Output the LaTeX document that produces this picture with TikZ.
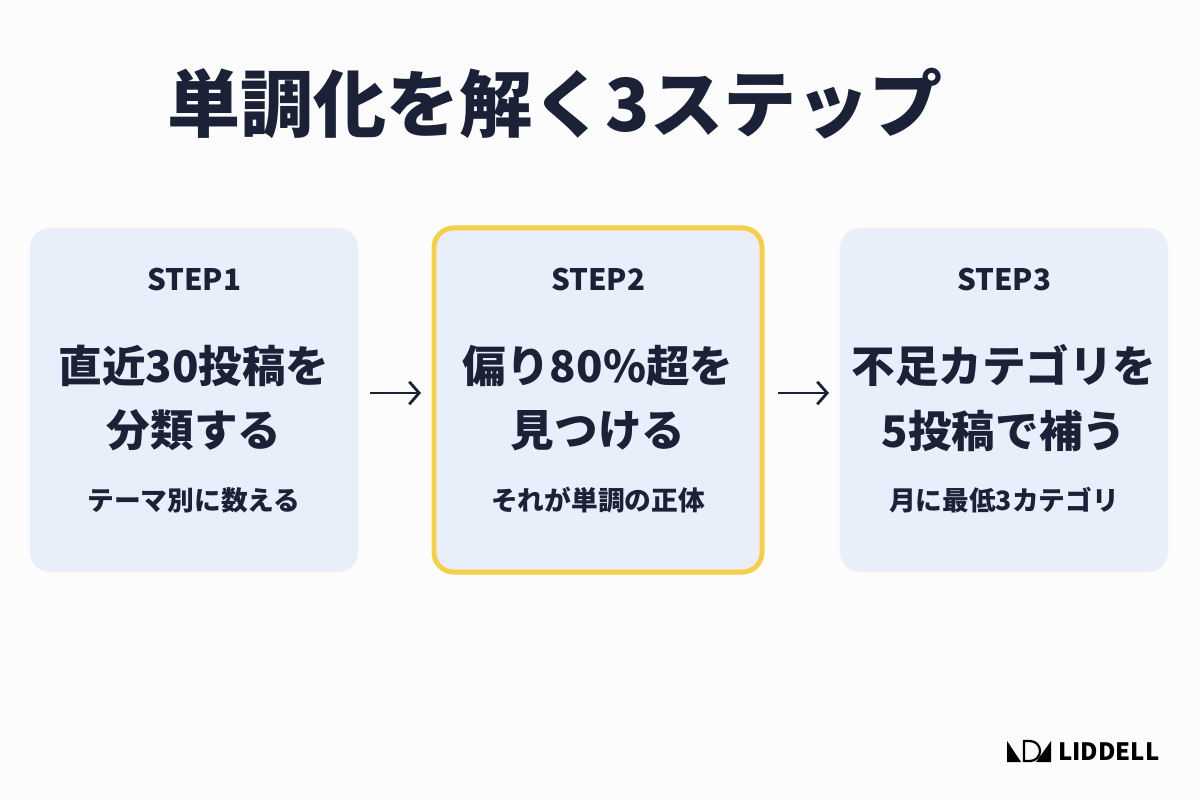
\documentclass[tikz,border=0pt]{standalone}
\usepackage{fontspec}
\setmainfont{Noto Sans CJK JP}
\usetikzlibrary{positioning,arrows.meta}
\definecolor{navy}{HTML}{1B2238}
\definecolor{boxfill}{HTML}{E9EFFA}
\definecolor{gold}{HTML}{F5CF45}
\tikzset{
  step box/.style={rounded corners=14pt, fill=boxfill, minimum width=8.2cm, minimum height=8.6cm, inner sep=0pt},
  step tag/.style={text=navy, font=\fontsize{21}{21}\selectfont\bfseries},
  step main/.style={text=navy, align=center, font=\fontsize{31}{46}\selectfont\bfseries},
  step sub/.style={text=navy, font=\fontsize{19}{19}\selectfont\bfseries},
  flow/.style={navy, line width=2pt, -{Straight Barb[length=7pt,width=16pt,line width=2pt]}}
}
\begin{document}
\begin{tikzpicture}[x=0.025cm,y=-0.025cm]
\fill[white!98!gray] (0,0) rectangle (1200,800);
\useasboundingbox (0,0) rectangle (1200,800);

\node[text=navy, font=\fontsize{52}{52}\selectfont\bfseries] (title) at (555,104) {単調化を解く3ステップ};

% boxes
\node[step box] (box1) at (194,400) {};
\node[step box, draw=gold, line width=3.5pt] (box2) at (598,400) {};
\node[step box] (box3) at (1004,400) {};

\foreach \b/\t/\m/\s in {box1/STEP1/{直近30投稿を\\分類する}/テーマ別に数える,
                         box2/STEP2/{偏り80\%超を\\見つける}/それが単調の正体,
                         box3/STEP3/{不足カテゴリを\\5投稿で補う}/月に最低3カテゴリ}{
  \node[step tag] (\b-tag) at (\b.center |- 0,280) {\t};
  \node[step main] (\b-main) at (\b.center |- 0,398) {\m};
  \node[step sub] (\b-sub) at (\b.center |- 0,500) {\s};
}

\coordinate (a1) at (370,393);
\coordinate (a2) at (421,393);
\coordinate (a3) at (778,393);
\coordinate (a4) at (829,393);
\draw[flow] (a1) -- (a2);
\draw[flow] (a3) -- (a4);

% logo
\fill[black] (1007,762) -- (1007,741) -- (1021,762) -- cycle;
\draw[black, line width=1.6pt] (1024,741) -- (1024,761) -- (1030,761) arc (90:-90:10) -- cycle;
\fill[black] (1036,762) -- (1051,741) -- (1051,762) -- cycle;
\node[anchor=west, font=\fontsize{17}{17}\selectfont\bfseries, text=black, inner sep=0pt] (logo) at (1058,752) {LIDDELL};
\end{tikzpicture}
\end{document}
